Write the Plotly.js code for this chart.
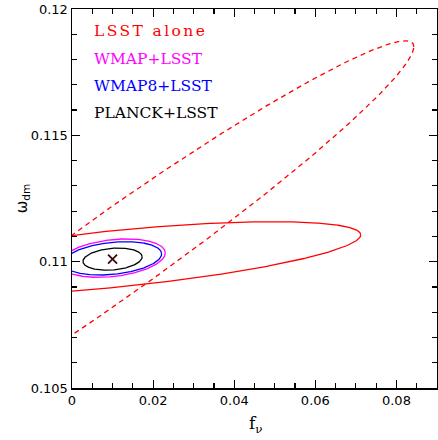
<!DOCTYPE html>
<html>
<head>
<meta charset="utf-8">
<script src="https://cdn.plot.ly/plotly-3.0.1.min.js"></script>
<style>html,body{margin:0;padding:0;background:#fff;}#chart{width:438px;height:440px;}</style>
</head>
<body>
<div id="chart"></div>
<script>
// Fisher-ellipse parameters (centre, half-extent in x and y, correlation)
const ellipseNames = ['LSST alone (dashed)', 'LSST alone', 'WMAP+LSST', 'WMAP8+LSST', 'PLANCK+LSST'];
const centerFnu = [0.01, 0.01, 0.01, 0.01, 0.01];
const centerOmega = [0.1102, 0.1101, 0.11014, 0.11013, 0.1101];
const halfWidthFnu = [0.0743, 0.0612, 0.0130, 0.0121, 0.0073];
const halfHeightOmega = [0.00854, 0.00148, 0.00076, 0.00066, 0.00044];
const correlation = [0.972, 0.649, 0.27, 0.27, 0.2];

const legendLabels = ['LSST alone', 'WMAP+LSST', 'WMAP8+LSST', 'PLANCK+LSST'];
const fiducialFnu = [0.01];
const fiducialOmega = [0.1101];

const xTickVals = [0, 0.02, 0.04, 0.06, 0.08];
const xTickText = ['0', '0.02', '0.04', '0.06', '0.08'];
const yTickVals = [0.105, 0.11, 0.115, 0.12];
const yTickText = ['0.105', '0.11', '0.115', '0.12'];
const xTitle = 'f<sub>ν</sub>';
const yTitle = 'ω<sub>dm</sub>';

// styles
const ellipseColors = ['#ff0000', '#ff0000', '#ff00ff', '#0000ff', '#000000'];
const ellipseDash = ['5px,4px', 'solid', 'solid', 'solid', 'solid'];
const legendColors = ['#ff0000', '#ff00ff', '#0000ff', '#000000'];

function ellipse(i) {
  const xs = [], ys = [];
  const r = correlation[i], q = Math.sqrt(1 - r * r);
  for (let k = 0; k <= 720; k++) {
    const t = 2 * Math.PI * k / 720;
    xs.push(centerFnu[i] + halfWidthFnu[i] * Math.cos(t));
    ys.push(centerOmega[i] + halfHeightOmega[i] * (r * Math.cos(t) + q * Math.sin(t)));
  }
  return {xs, ys};
}

const traces = ellipseNames.map((name, i) => {
  const e = ellipse(i);
  return {
    x: e.xs, y: e.ys, mode: 'lines', type: 'scatter', name: name,
    line: {color: ellipseColors[i], width: 1.3, dash: ellipseDash[i]},
    hoverinfo: 'skip', showlegend: false
  };
});
traces.push({
  x: fiducialFnu, y: fiducialOmega, mode: 'markers', type: 'scatter',
  marker: {symbol: 'x-thin', size: 9, color: '#3a0712', line: {width: 1.8, color: '#3a0712'}},
  showlegend: false, hoverinfo: 'skip'
});
// empty trace so the mirrored (top / right) tick axes are drawn
traces.push({x: [null], y: [null], xaxis: 'x2', yaxis: 'y2', mode: 'markers', showlegend: false, hoverinfo: 'skip'});

const legendY = [0.942, 0.868, 0.796, 0.726];
const annotations = legendLabels.map((t, i) => ({
  text: t, xref: 'paper', yref: 'paper', x: 0.056, y: legendY[i],
  xanchor: 'left', yanchor: 'middle', showarrow: false, xshift: i === 0 ? 12 : 0,
  font: {family: 'DejaVu Serif', size: 15.5, color: legendColors[i]}
}));
annotations.push({
  text: xTitle, xref: 'paper', yref: 'paper', x: 0.503, y: -0.095,
  xanchor: 'center', yanchor: 'middle', showarrow: false,
  font: {family: 'DejaVu Serif', size: 17, color: '#000'}
});
annotations.push({
  text: yTitle, xref: 'paper', yref: 'paper', x: -0.135, y: 0.5,
  xanchor: 'center', yanchor: 'middle', showarrow: false, textangle: -90,
  font: {family: 'DejaVu Sans', size: 15, color: '#000'}
});

const tickFont = {family: 'DejaVu Sans', size: 13, color: '#000'};
const axisCommon = {
  showgrid: false, zeroline: false, showline: true, linecolor: '#000', linewidth: 1.5,
  mirror: true, ticks: 'inside', ticklen: 8, tickwidth: 1.2, tickcolor: '#000',
  tickfont: tickFont
};
const xMinor = {dtick: 0.005, ticks: 'inside', ticklen: 5, tickwidth: 1.2, tickcolor: '#000'};
const yMinor = {dtick: 0.001, ticks: 'inside', ticklen: 5, tickwidth: 1.2, tickcolor: '#000'};

const layout = {
  width: 438, height: 440,
  margin: {l: 72, r: 1, t: 9, b: 52},
  paper_bgcolor: '#fff', plot_bgcolor: '#fff',
  showlegend: false,
  xaxis: Object.assign({}, axisCommon, {
    range: [0, 0.09], tickvals: xTickVals, ticktext: xTickText, minor: xMinor
  }),
  yaxis: Object.assign({}, axisCommon, {
    range: [0.105, 0.12], tickvals: yTickVals, ticktext: yTickText, minor: yMinor
  }),
  xaxis2: {
    overlaying: 'x', side: 'top', range: [0, 0.09], tickvals: xTickVals,
    showticklabels: false, showgrid: false, zeroline: false, showline: false,
    ticks: 'inside', ticklen: 8, tickwidth: 1.2, tickcolor: '#000', minor: xMinor
  },
  yaxis2: {
    overlaying: 'y', side: 'right', range: [0.105, 0.12], tickvals: yTickVals,
    showticklabels: false, showgrid: false, zeroline: false, showline: false,
    ticks: 'inside', ticklen: 8, tickwidth: 1.2, tickcolor: '#000', minor: yMinor
  },
  annotations: annotations
};

Plotly.newPlot('chart', traces, layout, {displayModeBar: false, staticPlot: true}).then(() => {
  const txt = document.querySelectorAll('.annotation-text');
  if (txt.length) txt[0].style.letterSpacing = '2.4px';
});
</script>
</body>
</html>
